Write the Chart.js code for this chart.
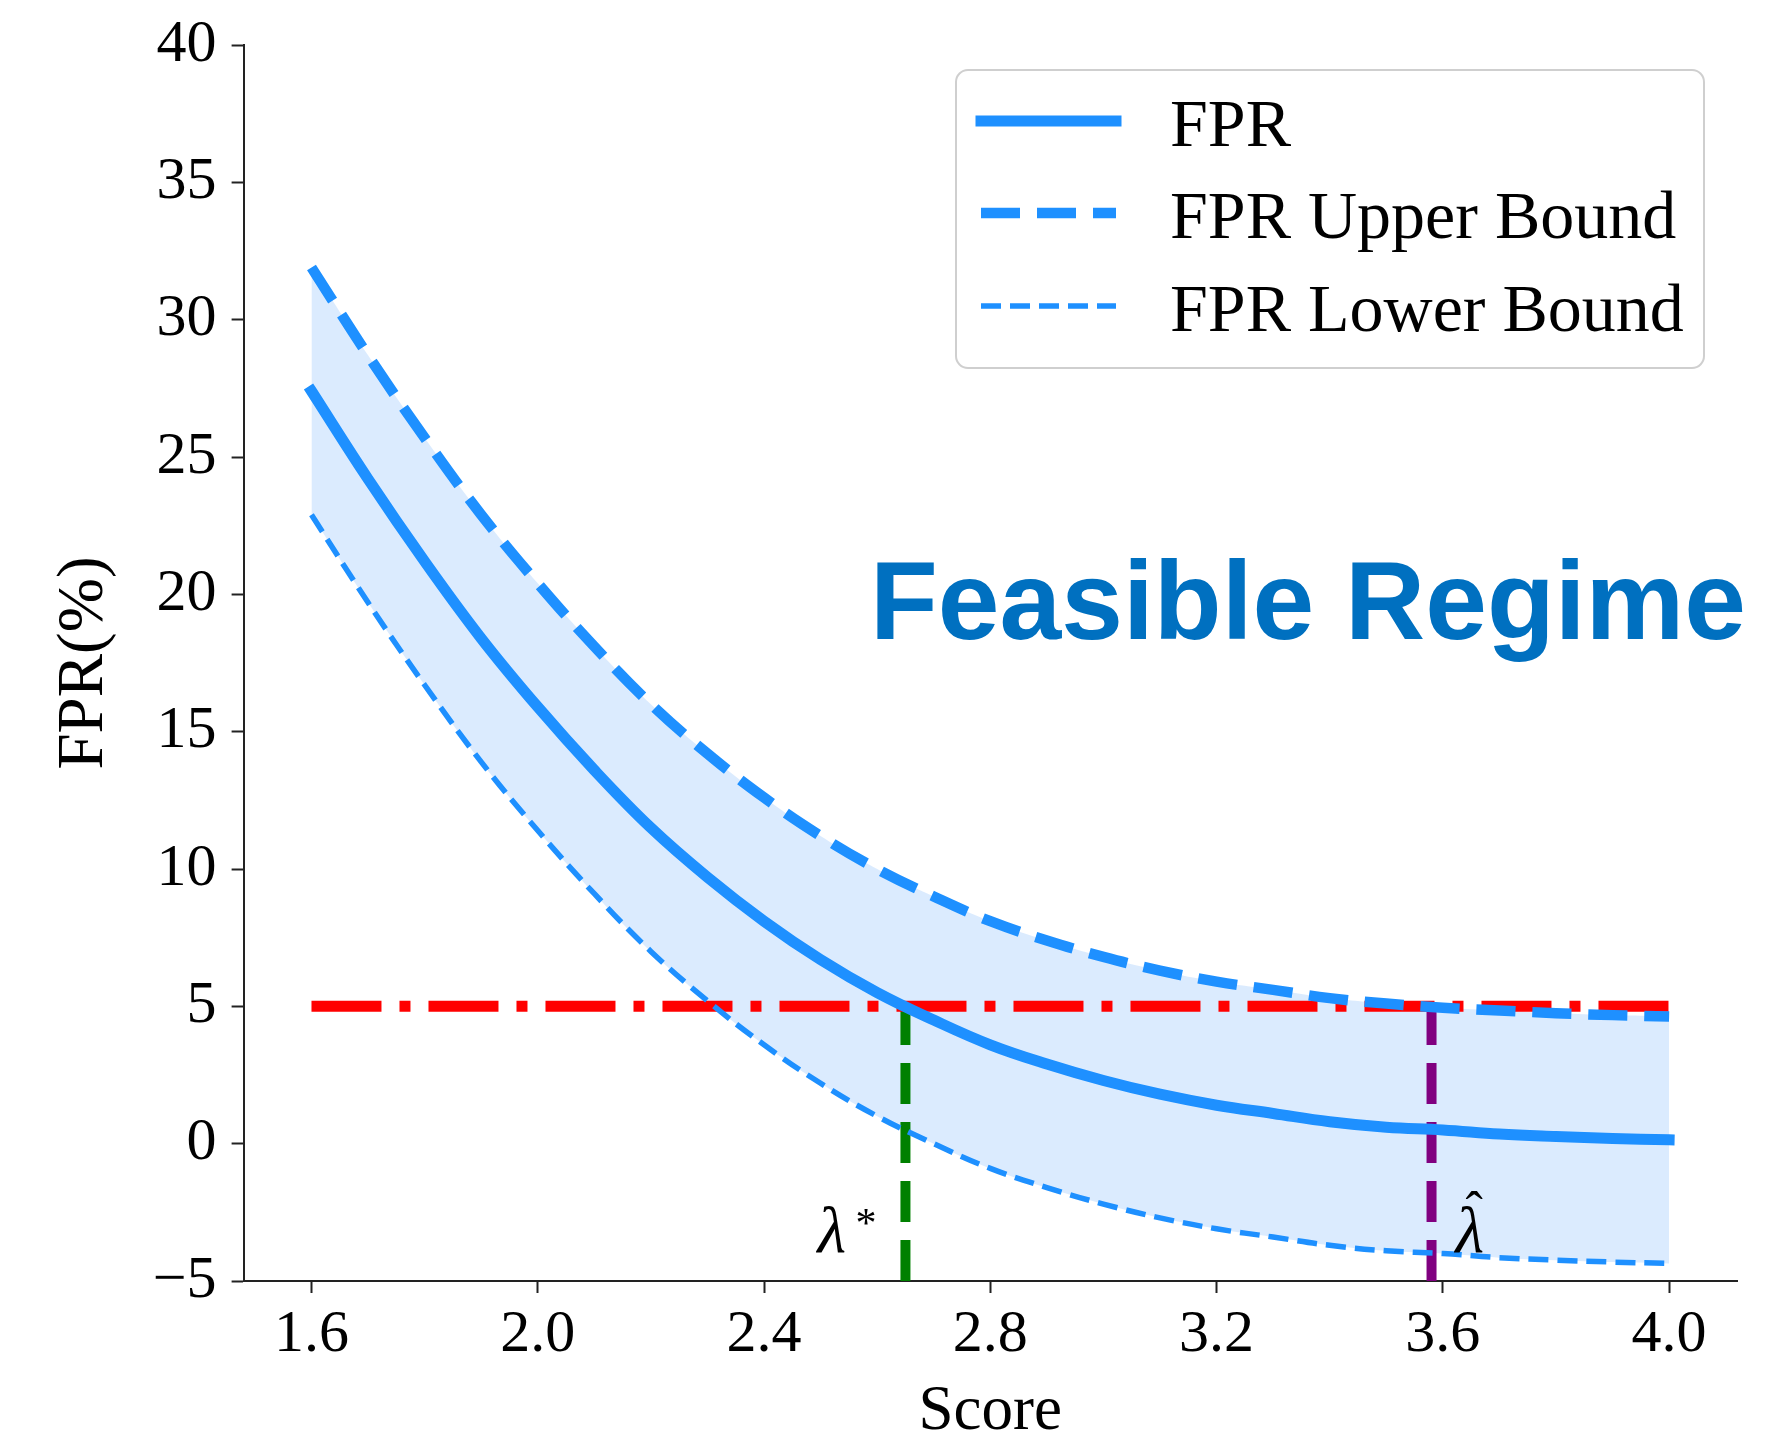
<!DOCTYPE html>
<html>
<head>
<meta charset="utf-8">
<title>FPR vs Score</title>
<script src="https://cdn.jsdelivr.net/npm/chart.js@4.4.0/dist/chart.umd.min.js"></script>
<style>
  html, body { margin: 0; padding: 0; background: #fff; }
  #wrap { width: 1784px; height: 1433px; }
</style>
</head>
<body>
<div id="wrap"><canvas id="fprChart" width="1784" height="1433"></canvas></div>
<script>
// Values (score on x, FPR in % on y)
const scores = [1.6, 1.7, 1.8, 1.9, 2.0, 2.1, 2.2, 2.3, 2.4, 2.5, 2.6, 2.7, 2.8,
                2.9, 3.0, 3.1, 3.2, 3.3, 3.4, 3.5, 3.6, 3.7, 3.8, 3.9, 4.0];
const fpr = [27.4, 24.2, 21.2, 18.4, 15.9, 13.6, 11.5, 9.7, 8.1, 6.7, 5.5, 4.5, 3.6,
             2.9, 2.3, 1.8, 1.4, 1.1, 0.8, 0.6, 0.5, 0.35, 0.26, 0.19, 0.14];
const fprUpper = [31.9, 28.7, 25.7, 22.9, 20.4, 18.1, 16.0, 14.2, 12.6, 11.2, 10.0, 9.0, 8.1,
                  7.4, 6.8, 6.3, 5.9, 5.6, 5.3, 5.1, 4.95, 4.85, 4.75, 4.68, 4.63];
const fprLower = [22.9, 19.7, 16.7, 13.9, 11.4, 9.1, 7.0, 5.2, 3.6, 2.2, 1.0, 0.0, -0.9,
                  -1.6, -2.2, -2.7, -3.1, -3.4, -3.7, -3.9, -4.0, -4.15, -4.24, -4.31, -4.36];

// target level and the two thresholds
const targetX = [1.6, 4.0];
const targetY = [5, 5];
const lambdaStar = 2.65;
const lambdaHat = 3.58;
const markerY = [-5, 5];

const xTicks = [1.6, 2.0, 2.4, 2.8, 3.2, 3.6, 4.0];
const yTicks = [-5, 0, 5, 10, 15, 20, 25, 30, 35, 40];

const BLUE = '#1E90FF';
const serif = '"Liberation Serif", "Times New Roman", serif';

const toPoints = (xs, ys) => xs.map((v, i) => ({ x: v, y: ys[i] }));

// draws the text bits and the legend box on top of the plot
const overlay = {
  id: 'overlay',
  afterDraw(chart) {
    const { ctx } = chart;
    const xs = chart.scales.x, ys = chart.scales.y;
    ctx.save();

    // big label
    ctx.font = 'bold 111px "Liberation Sans", Arial, sans-serif';
    ctx.fillStyle = '#0070C0';
    ctx.textAlign = 'left';
    ctx.textBaseline = 'alphabetic';
    ctx.fillText('Feasible Regime', 870, 639);

    // lambda labels
    const base = ys.getPixelForValue(-5) - 29;
    ctx.fillStyle = '#000';
    ctx.font = 'italic 66px ' + serif;
    const sx = xs.getPixelForValue(lambdaStar);
    ctx.fillText('\u03bb', sx - 88, base);
    ctx.font = '42px ' + serif;
    ctx.fillText('*', sx - 50, base - 15);

    const hx = xs.getPixelForValue(lambdaHat);
    ctx.font = 'italic 66px ' + serif;
    ctx.fillText('\u03bb', hx + 24, base);
    ctx.font = '52px ' + serif;
    ctx.fillText('\u02c6', hx + 34, base - 24);

    // legend
    const lx = 956, ly = 70, lw = 748, lh = 298;
    ctx.beginPath();
    ctx.roundRect(lx, ly, lw, lh, 12);
    ctx.fillStyle = 'rgba(255,255,255,0.85)';
    ctx.fill();
    ctx.strokeStyle = '#cfcfcf';
    ctx.lineWidth = 2;
    ctx.stroke();

    const rows = [121, 213, 306];
    ctx.font = '68px ' + serif;
    ctx.textBaseline = 'alphabetic';
    chart.data.datasets.slice(0, 3).forEach((ds, i) => {
      ctx.beginPath();
      ctx.setLineDash(ds.borderDash || []);
      ctx.lineDashOffset = 0;
      ctx.lineCap = ds.borderDash && ds.borderDash.length ? 'butt' : 'square';
      ctx.lineWidth = ds.borderWidth;
      ctx.strokeStyle = ds.borderColor;
      ctx.moveTo(981, rows[i]);
      ctx.lineTo(1116, rows[i]);
      ctx.stroke();
      ctx.setLineDash([]);
      ctx.fillStyle = '#000';
      ctx.fillText(ds.label, 1170, rows[i] + 25);
    });
    ctx.restore();
  }
};

const chart = new Chart(document.getElementById('fprChart'), {
  type: 'line',
  data: {
    datasets: [
      {
        label: 'FPR',
        data: toPoints(scores, fpr),
        borderColor: BLUE,
        borderWidth: 11,
        borderCapStyle: 'square',
        tension: 0.4,
        pointRadius: 0,
        fill: false,
        order: 0
      },
      {
        label: 'FPR Upper Bound',
        data: toPoints(scores, fprUpper),
        borderColor: BLUE,
        borderWidth: 10.5,
        borderDash: [39, 17],
        tension: 0.4,
        pointRadius: 0,
        backgroundColor: 'rgba(30,130,250,0.16)',
        fill: '+1',
        order: 0
      },
      {
        label: 'FPR Lower Bound',
        data: toPoints(scores, fprLower),
        borderColor: BLUE,
        borderWidth: 5.5,
        borderDash: [20, 9],
        tension: 0.4,
        pointRadius: 0,
        fill: false,
        order: 0
      },
      {
        label: 'target',
        data: toPoints(targetX, targetY),
        borderColor: '#FF0000',
        borderWidth: 11,
        borderDash: [70, 18, 11, 18],
        pointRadius: 0,
        tension: 0,
        fill: false,
        order: 1
      },
      {
        label: 'lambda star',
        data: toPoints([lambdaStar, lambdaStar], markerY),
        borderColor: '#008000',
        borderWidth: 10,
        borderDash: [41, 18],
        pointRadius: 0,
        tension: 0,
        fill: false,
        order: 2
      },
      {
        label: 'lambda hat',
        data: toPoints([lambdaHat, lambdaHat], markerY),
        borderColor: '#800080',
        borderWidth: 10,
        borderDash: [41, 18],
        pointRadius: 0,
        tension: 0,
        fill: false,
        order: 2
      }
    ]
  },
  options: {
    responsive: false,
    animation: false,
    devicePixelRatio: 1,
    layout: { padding: { left: 0, top: 35, right: 47, bottom: 0 } },
    plugins: {
      legend: { display: false },
      tooltip: { enabled: false },
      filler: { drawTime: 'beforeDatasetsDraw' }
    },
    scales: {
      x: {
        type: 'linear',
        min: 1.48,
        max: 4.12,
        afterBuildTicks: (axis) => { axis.ticks = xTicks.map(v => ({ value: v })); },
        afterFit: (axis) => { axis.height = 152; },
        ticks: {
          color: '#000',
          font: { family: serif, size: 60, lineHeight: 1 },
          padding: 12,
          maxRotation: 0,
          callback: (v) => Number(v).toFixed(1)
        },
        grid: { display: true, drawOnChartArea: false, drawTicks: true, tickLength: 12, tickColor: '#222', tickWidth: 2 },
        border: { display: true, color: '#222', width: 2 },
        title: { display: true, text: 'Score', color: '#000', font: { family: serif, size: 63, lineHeight: 0.65 }, padding: { top: 0, bottom: 0 } }
      },
      y: {
        type: 'linear',
        min: -5,
        max: 40,
        afterBuildTicks: (axis) => { axis.ticks = yTicks.map(v => ({ value: v })); },
        afterFit: (axis) => { axis.width = 243.6; },
        ticks: {
          color: '#000',
          font: { family: serif, size: 60, lineHeight: 1 },
          padding: 15,
          callback: (v) => (v < 0 ? '\u2212' + Math.abs(v) : String(v))
        },
        grid: { display: true, drawOnChartArea: false, drawTicks: true, tickLength: 12, tickColor: '#222', tickWidth: 2 },
        border: { display: true, color: '#222', width: 2 },
        title: { display: true, text: 'FPR(%)', color: '#000', font: { family: serif, size: 65 }, padding: { top: 46, bottom: 0 } }
      }
    }
  },
  plugins: [overlay]
});
</script>
</body>
</html>
